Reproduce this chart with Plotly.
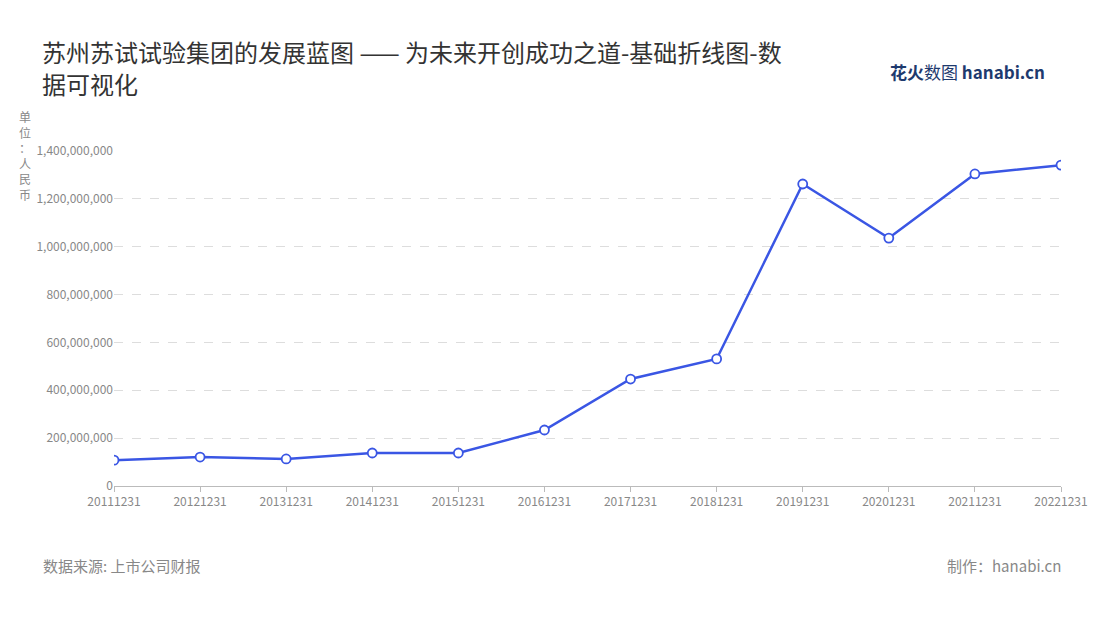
import plotly.graph_objects as go

dates = ["20111231","20121231","20131231","20141231","20151231","20161231",
         "20171231","20181231","20191231","20201231","20211231","20221231"]
values = [108000000,121000000,113000000,138000000,138000000,234000000,
          447000000,531000000,1262000000,1036000000,1304000000,1341000000]
yticks = [0,200000000,400000000,600000000,800000000,1000000000,1200000000,1400000000]
title_lines = ["苏州苏试试验集团的发展蓝图 —— 为未来开创成功之道-基础折线图-数", "据可视化"]

fig = go.Figure(go.Scatter(
    x=dates, y=values, mode="lines+markers",
    line=dict(color="#3a56e4", width=2.5),
    marker=dict(size=9, color="white", line=dict(color="#3a56e4", width=1.8)),
))
font = "Noto Sans CJK SC"
fig.update_layout(
    width=1100, height=620, paper_bgcolor="white", plot_bgcolor="white",
    margin=dict(l=106, r=47, t=143, b=142),
    showlegend=False,
    font=dict(family=font, color="#888"),
    xaxis=dict(type="category", range=[0, 11], showgrid=False, showline=True,
               linecolor="#bbb", ticks="outside", ticklen=5, tickcolor="#bbb",
               tickfont=dict(size=12, color="#888")),
    yaxis=dict(range=[0, 1400000000], tickvals=yticks, tickformat=",d",
               gridcolor="#ddd", griddash="dash", zeroline=False,
               tickfont=dict(size=12, color="#888")),
)
for i, line in enumerate(title_lines):
    fig.add_annotation(text=line, xref="paper", yref="paper", x=-0.078, y=1.355 - i * 0.095,
                       xanchor="left", yanchor="top", showarrow=False,
                       font=dict(size=24, color="#333", family=font))
fig.add_annotation(text="单<br>位<br>：<br>人<br>民<br>币", xref="paper", yref="paper",
                   x=-0.102, y=1.135, xanchor="left", yanchor="top", showarrow=False,
                   font=dict(size=12, color="#888"), align="center")
fig.add_annotation(text="数据来源: 上市公司财报", xref="paper", yref="paper", x=-0.077, y=-0.2,
                   xanchor="left", yanchor="top", showarrow=False, font=dict(size=15, color="#888"))
fig.add_annotation(text="制作：hanabi.cn", xref="paper", yref="paper", x=1.002, y=-0.2,
                   xanchor="right", yanchor="top", showarrow=False, font=dict(size=15, color="#888"))
fig.add_annotation(text="<b>花火</b>数图 <b>hanabi.cn</b>", xref="paper", yref="paper", x=0.985, y=1.28,
                   xanchor="right", yanchor="top", showarrow=False, font=dict(size=17, color="#1e3a6e"))
fig.write_html("out.html")
